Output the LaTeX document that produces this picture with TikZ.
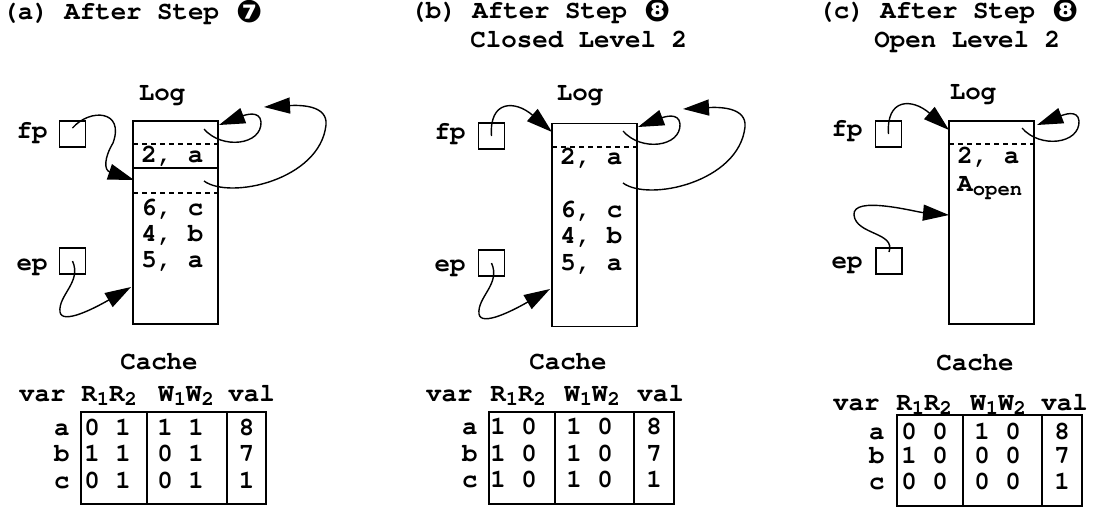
\documentclass[tikz,border=0pt]{standalone}
\usepackage{fontspec}
\newfontfamily\symfont{DejaVu Sans}
\usetikzlibrary{arrows.meta,positioning}

\newcommand{\cw}{\fontencoding{T1}\fontfamily{pcr}\bfseries\fontsize{12.9}{13}\selectfont}
\newcommand{\lowidx}[1]{\raisebox{-2pt}{\fontsize{10.3}{10}\selectfont #1}}
\newcommand{\stepno}[1]{\hspace{1pt}\raisebox{-1.8pt}{\symfont\fontsize{15.5}{15.5}\selectfont #1}}

\tikzset{
  txt/.style = {inner sep=0pt, font=\cw},
  logbox/.style = {draw, line width=0.8pt, minimum width=42.5pt, minimum height=101.5pt, inner sep=0pt},
  ptrbox/.style = {draw, line width=0.6pt, minimum size=13pt, inner sep=0pt},
  ptrarrow/.style = {line width=0.7pt, -{Triangle[length=13pt,width=8pt]}},
  dashline/.style = {line width=0.7pt, dash pattern=on 2.5pt off 2pt},
  tabline/.style = {line width=0.8pt}
}

\begin{document}
\begin{tikzpicture}[x=0.5pt, y=-0.5pt]
  \useasboundingbox (0,0) rectangle (1093,510);

  % titles
  \node[txt, anchor=mid west] (a-title) at (2,15) {(a) After Step \stepno{❼}};
  \node[txt, anchor=mid west] (b-title) at (410,14) {(b) After Step \stepno{❽}};
  \node[txt, anchor=mid west] (b-sub) at (470,43) {Closed Level 2};
  \node[txt, anchor=mid west] (c-title) at (818,14) {(c) After Step \stepno{❽}};
  \node[txt, anchor=mid west] (c-sub) at (874,43) {Open Level 2};

  % (a) log after step 7
  \begin{scope}
    \node[txt] (a-logname) at (162,95) {Log};
    \node[logbox] (a-log) at (175.5,222.5) {};
    \draw[dashline] (133,144) -- (218,144);
    \draw[tabline] (133,168) -- (218,168);
    \draw[dashline] (133,193) -- (218,193);
    \node[txt, anchor=mid west] (a-e1) at (141,158) {2, a};
    \node[txt, anchor=mid west] (a-e2) at (141,211) {6, c};
    \node[txt, anchor=mid west] (a-e3) at (141,237) {4, b};
    \node[txt, anchor=mid west] (a-e4) at (141,263) {5, a};

    \node[ptrbox] (a-fp) at (72.5,134) {};
    \node[ptrbox] (a-ep) at (72.5,261) {};
    \node[txt, anchor=mid east] (a-fpname) at (48,134) {fp};
    \node[txt, anchor=mid east] (a-epname) at (48,266) {ep};

    \coordinate (a-free) at (134,180);
    \coordinate (a-end) at (131,287);
    \coordinate (a-hdr1) at (204,129);
    \coordinate (a-top) at (219,125);
    \coordinate (a-hdr2) at (204,181);
    \coordinate (a-up) at (264,107);

    \draw[ptrarrow] ([yshift=3pt]a-fp.center) .. controls (90,108) and (125,110) .. (113,143)
      .. controls (104,158) and (104,170) .. (a-free);
    \draw[ptrarrow] (a-ep.center) .. controls (82,282) and (58,295) .. (60,312)
      .. controls (62,325) and (95,308) .. (a-end);
    \draw[ptrarrow] (a-hdr1) .. controls (222,150) and (262,145) .. (261,122)
      .. controls (260,110) and (245,115) .. (a-top);
    \draw[ptrarrow] (a-hdr2) .. controls (230,200) and (320,180) .. (326,125)
      .. controls (328,105) and (300,105) .. (a-up);
  \end{scope}

  % (b) log after step 8, level 2 closed
  \begin{scope}[shift={(419,2)}]
    \node[txt] (b-logname) at (161,93) {Log};
    \node[logbox] (b-log) at (175.5,223) {};
    \draw[dashline] (133,145) -- (218,145);
    \node[txt, anchor=mid west] (b-e1) at (141,158) {2, a};
    \node[txt, anchor=mid west] (b-e2) at (141,211) {6, c};
    \node[txt, anchor=mid west] (b-e3) at (141,237) {4, b};
    \node[txt, anchor=mid west] (b-e4) at (141,264) {5, a};

    \node[ptrbox] (b-fp) at (72.5,134) {};
    \node[ptrbox] (b-ep) at (72.5,261) {};
    \node[txt, anchor=mid east] (b-fpname) at (47,133) {fp};
    \node[txt, anchor=mid east] (b-epname) at (47,265) {ep};

    \coordinate (b-start) at (133,130);
    \coordinate (b-end) at (131,287);
    \coordinate (b-hdr1) at (204,129);
    \coordinate (b-top) at (219,125);
    \coordinate (b-hdr2) at (204,181);
    \coordinate (b-up) at (264,107);

    \draw[ptrarrow] (b-fp.center) .. controls (70,98) and (96,98) .. (b-start);
    \draw[ptrarrow] (b-ep.center) .. controls (82,282) and (58,295) .. (60,312)
      .. controls (62,325) and (95,308) .. (b-end);
    \draw[ptrarrow] (b-hdr1) .. controls (222,150) and (262,145) .. (261,122)
      .. controls (260,110) and (245,115) .. (b-top);
    \draw[ptrarrow] (b-hdr2) .. controls (230,200) and (320,180) .. (326,125)
      .. controls (328,105) and (300,105) .. (b-up);
  \end{scope}

  % (c) log after step 8, level 2 open
  \begin{scope}[shift={(816,0)}]
    \node[txt] (c-logname) at (157,94) {Log};
    \node[logbox] (c-log) at (175.5,222.5) {};
    \draw[dashline] (133,144) -- (218,144);
    \node[txt, anchor=mid west] (c-e1) at (141,159) {2, a};
    \node[txt, anchor=mid west] (c-e2) at (141,187) {A\lowidx{open}};

    \node[ptrbox] (c-fp) at (72.5,134) {};
    \node[ptrbox] (c-ep) at (73,261) {};
    \node[txt, anchor=mid east] (c-fpname) at (47,132) {fp};
    \node[txt, anchor=mid east] (c-epname) at (47,264) {ep};

    \coordinate (c-start) at (133,130);
    \coordinate (c-end) at (133,215);
    \coordinate (c-hdr1) at (206,128);
    \coordinate (c-top) at (221,125);

    \draw[ptrarrow] (c-fp.center) .. controls (70,98) and (96,98) .. (c-start);
    \draw[ptrarrow] ([yshift=4.5pt]c-ep.center) .. controls (80,232) and (40,235) .. (38,215)
      .. controls (36,195) and (100,212) .. (c-end);
    \draw[ptrarrow] (c-hdr1) .. controls (224,149) and (264,144) .. (263,121)
      .. controls (262,109) and (247,115) .. (c-top);
  \end{scope}

  % cache tables
  \node[txt] (a-cache) at (159,362) {Cache};
  \node[txt, anchor=mid east] (a-hvar) at (66,397) {var};
  \node[txt, anchor=mid west] (a-hr) at (81,397) {R\lowidx{1}R\lowidx{2}};
  \node[txt, anchor=mid west] (a-hw) at (158,397) {W\lowidx{1}W\lowidx{2}};
  \node[txt, anchor=mid west] (a-hval) at (228,397) {val};
  \draw[tabline] (81,412) rectangle (266,504) (147,412) -- (147,504) (227,412) -- (227,504);
  \foreach \rowvar/\rbits/\wbits/\rval/\yy in {a/0 1/1 1/8/431,b/1 1/0 1/7/457,c/0 1/0 1/1/484} {
    \node[txt, anchor=mid east] (a-var-\rowvar) at (70,\yy) {\rowvar};
    \node[txt, anchor=mid west] (a-r-\rowvar) at (84,\yy) {\rbits};
    \node[txt, anchor=mid west] (a-w-\rowvar) at (157,\yy) {\wbits};
    \node[txt, anchor=mid] (a-val-\rowvar) at (246.5,\yy) {\rval};
  }

  \node[txt] (b-cache) at (568,362) {Cache};
  \node[txt, anchor=mid east] (b-hvar) at (473,397) {var};
  \node[txt, anchor=mid west] (b-hr) at (490,397) {R\lowidx{1}R\lowidx{2}};
  \node[txt, anchor=mid west] (b-hw) at (564,397) {W\lowidx{1}W\lowidx{2}};
  \node[txt, anchor=mid west] (b-hval) at (637,397) {val};
  \draw[tabline] (489,412) rectangle (674,504) (555,412) -- (555,504) (634,412) -- (634,504);
  \foreach \rowvar/\rbits/\wbits/\rval/\yy in {a/1 0/1 0/8/430,b/1 0/1 0/7/457,c/1 0/1 0/1/483} {
    \node[txt, anchor=mid east] (b-var-\rowvar) at (478,\yy) {\rowvar};
    \node[txt, anchor=mid west] (b-r-\rowvar) at (490,\yy) {\rbits};
    \node[txt, anchor=mid west] (b-w-\rowvar) at (566,\yy) {\wbits};
    \node[txt, anchor=mid] (b-val-\rowvar) at (654,\yy) {\rval};
  }

  \node[txt] (c-cache) at (975,363) {Cache};
  \node[txt, anchor=mid east] (c-hvar) at (880,406) {var};
  \node[txt, anchor=mid west] (c-hr) at (896,406) {R\lowidx{1}R\lowidx{2}};
  \node[txt, anchor=mid west] (c-hw) at (970,406) {W\lowidx{1}W\lowidx{2}};
  \node[txt, anchor=mid west] (c-hval) at (1041,406) {val};
  \draw[tabline] (897,415) rectangle (1082,506) (963,415) -- (963,506) (1042,415) -- (1042,506);
  \foreach \rowvar/\rbits/\wbits/\rval/\yy in {a/0 0/1 0/8/435,b/1 0/0 0/7/459,c/0 0/0 0/1/485} {
    \node[txt, anchor=mid east] (c-var-\rowvar) at (885,\yy) {\rowvar};
    \node[txt, anchor=mid west] (c-r-\rowvar) at (901,\yy) {\rbits};
    \node[txt, anchor=mid west] (c-w-\rowvar) at (974,\yy) {\wbits};
    \node[txt, anchor=mid] (c-val-\rowvar) at (1062,\yy) {\rval};
  }
\end{tikzpicture}
\end{document}
